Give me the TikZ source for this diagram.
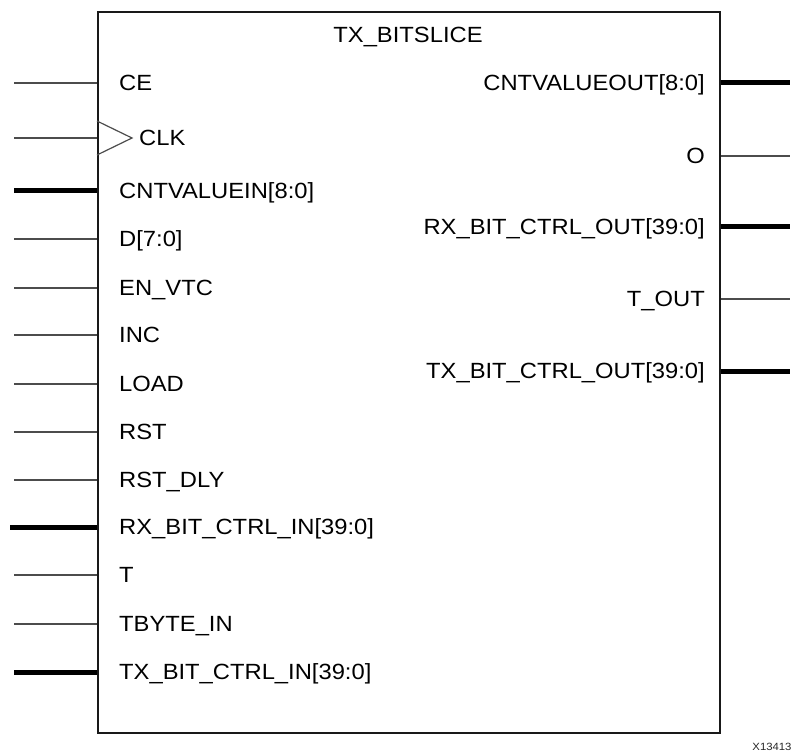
\documentclass[tikz,border=0pt]{standalone}
\usepackage{fontspec}
\setmainfont{Liberation Sans}[FakeStretch=1.08]
\begin{document}
\begin{tikzpicture}[x=1pt,y=-1pt,
  pthin/.style={line width=1.2pt, draw=black!70},
  pbus/.style={line width=5pt, draw=black},
  lbl/.style={inner sep=0pt, font=\fontsize{22}{26}\selectfont, text=black},
  boxst/.style={draw=black!90, line width=2.4pt, inner sep=0pt, anchor=north west,
                minimum width=622pt, minimum height=721pt}]
\useasboundingbox (0,0) rectangle (801,754);
\node[boxst] (box) at (97,10.7) {};
\node[lbl, anchor=base] (title) at (408,42.7) {TX\_BITSLICE};
% left pins
\foreach \y/\t/\s/\xs [count=\i] in {
  83/CE/pthin/14,
  191/CNTVALUEIN[8:0]/pbus/14,
  239/D[7:0]/pthin/14,
  288/EN\_VTC/pthin/14,
  335/INC/pthin/14,
  384/LOAD/pthin/14,
  432/RST/pthin/14,
  480/RST\_DLY/pthin/14,
  527/RX\_BIT\_CTRL\_IN[39:0]/pbus/10,
  575/T/pthin/14,
  624/TBYTE\_IN/pthin/14,
  672/TX\_BIT\_CTRL\_IN[39:0]/pbus/14}{
  \coordinate (l\i) at (\xs,\y);
  \draw[\s] (l\i) -- (box.west |- l\i);
  \node[lbl, anchor=base west] (lt\i) at (119,\y+7.9) {\t};
}
% clock pin
\coordinate (lclk) at (14,138);
\draw[pthin] (lclk) -- (box.west |- lclk);
\coordinate (ca) at (97,121);
\coordinate (cb) at (132,138);
\coordinate (cc) at (97,155);
\draw[pthin, line join=miter] (ca) -- (cb) -- (cc);
\node[lbl, anchor=base west] (lclkt) at (139,145.9) {CLK};
% right pins
\foreach \y/\t/\s [count=\i] in {
  83/CNTVALUEOUT[8:0]/pbus,
  156/O/pthin,
  227/RX\_BIT\_CTRL\_OUT[39:0]/pbus,
  299/T\_OUT/pthin,
  371/TX\_BIT\_CTRL\_OUT[39:0]/pbus}{
  \coordinate (r\i) at (790,\y);
  \draw[\s] (box.east |- r\i) -- (r\i);
  \node[lbl, anchor=base east] (rt\i) at (705,\y+7.9) {\t};
}
\node[inner sep=0pt, anchor=base, font=\fontsize{10.5}{12}\selectfont, text=black!85] (fig) at (772,750) {X13413};
\end{tikzpicture}
\end{document}
